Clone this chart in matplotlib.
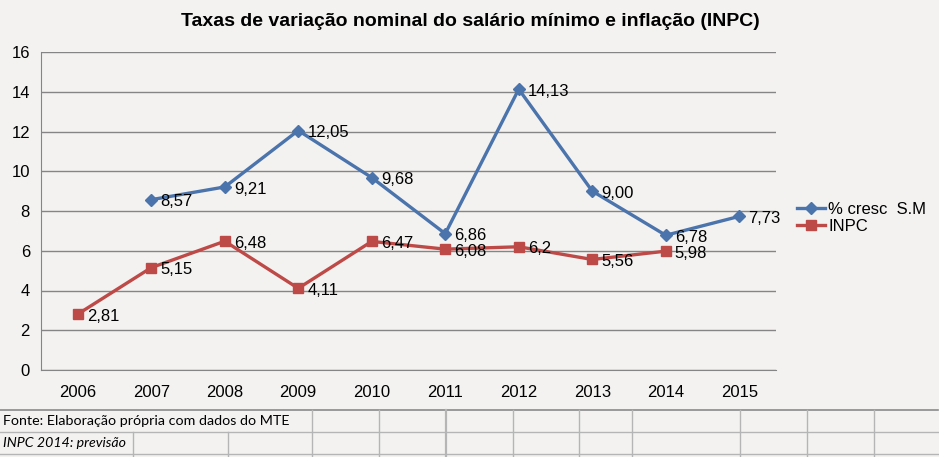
import numpy as np
import matplotlib
matplotlib.use("Agg")
import matplotlib.pyplot as plt
from matplotlib.lines import Line2D

# data
anos = ['2006', '2007', '2008', '2009', '2010', '2011', '2012', '2013', '2014', '2015']
sal_min = [None, 8.57, 9.21, 12.05, 9.68, 6.86, 14.13, 9.00, 6.78, 7.73]
sal_min_txt = ['', '8,57', '9,21', '12,05', '9,68', '6,86', '14,13', '9,00', '6,78', '7,73']
inpc = [2.81, 5.15, 6.48, 4.11, 6.47, 6.08, 6.2, 5.56, 5.98, None]
inpc_txt = ['2,81', '5,15', '6,48', '4,11', '6,47', '6,08', '6,2', '5,56', '5,98', '']
y_ticks = [0, 2, 4, 6, 8, 10, 12, 14, 16]

titulo = 'Taxas de variação nominal do salário mínimo e inflação (INPC)'
nome_sm = '% cresc  S.M'
nome_inpc = 'INPC'
fonte = 'Fonte: Elaboração própria com dados do MTE'
nota = 'INPC 2014: previsão'

BG = '#f3f2f1'
AZUL = '#4a74ab'
VERM = '#bd4a47'

plt.rcParams['font.family'] = ['Liberation Sans', 'DejaVu Sans']

fig = plt.figure(figsize=(9.39, 4.57), dpi=100, facecolor=BG)
W, H = 939.0, 457.0
ax = fig.add_axes([41 / W, 1 - 370 / H, 735 / W, 318 / H])
ax.set_facecolor(BG)

x = np.arange(len(anos))
sm = np.array([np.nan if v is None else v for v in sal_min])
ip = np.array([np.nan if v is None else v for v in inpc])

ax.plot(x, sm, color=AZUL, lw=2.4, marker='D', ms=6.5, zorder=3, label=nome_sm)
ax.plot(x, ip, color=VERM, lw=2.4, marker='s', ms=7.5, zorder=3, label=nome_inpc)

for xi, v, t in zip(x, sm, sal_min_txt):
    if t:
        ax.annotate(t, (xi, v), xytext=(6.5, -1.5), textcoords='offset points',
                    ha='left', va='center', fontsize=12, zorder=4)
for xi, v, t in zip(x, ip, inpc_txt):
    if t:
        ax.annotate(t, (xi, v), xytext=(6.5, -1.5), textcoords='offset points',
                    ha='left', va='center', fontsize=12, zorder=4)

ax.set_xlim(-0.5, len(anos) - 0.5)
ax.set_ylim(0, 16)
ax.set_yticks(y_ticks)
ax.set_xticks(x)
ax.set_xticklabels(anos)
ax.tick_params(axis='both', length=0, labelsize=12)
ax.tick_params(axis='y', pad=8)
ax.tick_params(axis='x', pad=11)
ax.grid(axis='y', color='#858585', lw=1)
ax.set_axisbelow(True)
for s in ['top', 'right']:
    ax.spines[s].set_visible(False)
ax.spines['left'].set_color('#858585')
ax.spines['bottom'].set_color('#858585')

fig.text(470 / W, 1 - 22 / H, titulo, ha='center', va='center',
         fontsize=14, fontweight='bold')

fig.legend(loc='center left', bbox_to_anchor=(790 / W, 1 - 218 / H),
           frameon=False, fontsize=12, handlelength=1.7, handletextpad=0.2,
           labelspacing=0.15, borderaxespad=0)

# spreadsheet grid under the chart
gc = '#b5b5b5'
fig.add_artist(Line2D([0, 938 / W], [1 - 410 / H] * 2, color='#8a8a8a', lw=1.2))
fig.add_artist(Line2D([0, 938 / W], [1 - 432 / H] * 2, color=gc, lw=1))
fig.add_artist(Line2D([0, 938 / W], [1 - 454 / H] * 2, color=gc, lw=1))
for cx in [312, 379, 446, 513, 579, 632, 740, 807, 874]:
    fig.add_artist(Line2D([cx / W] * 2, [1 - 410 / H, 0], color=gc,
                          lw=1.6 if cx == 446 else 1))
for cx in [133, 228]:
    fig.add_artist(Line2D([cx / W] * 2, [1 - 432 / H, 0], color=gc, lw=1))

fig.text(3 / W, 1 - 421 / H, fonte, ha='left', va='center', fontsize=10.3,
         family=['Lato', 'DejaVu Sans'])
fig.text(3 / W, 1 - 443 / H, nota, ha='left', va='center', fontsize=10.2,
         style='italic', family=['Lato', 'DejaVu Sans'])

fig.savefig('out.png', dpi=100, facecolor=BG)
